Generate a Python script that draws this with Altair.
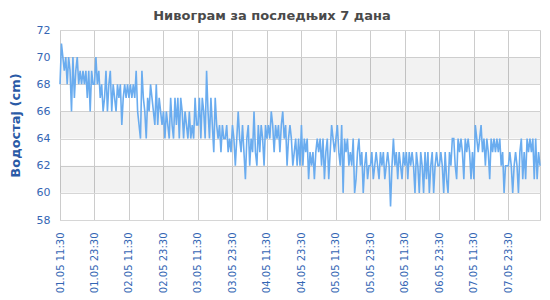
import json
import altair as alt
import pandas as pd

YEAR = "2024"
tick_labels = ["01.05 11:30", "01.05 23:30", "02.05 11:30", "02.05 23:30",
               "03.05 11:30", "03.05 23:30", "04.05 11:30", "04.05 23:30",
               "05.05 11:30", "05.05 23:30", "06.05 11:30", "06.05 23:30",
               "07.05 11:30", "07.05 23:30"]
y_ticks = [58, 60, 62, 64, 66, 68, 70, 72]
band_low = [60, 64, 68]
band_high = [62, 66, 70]

# water level (cm), one reading every 30 minutes, in 12-hour blocks
g0 = [68, 71, 70, 69, 70, 68, 70, 69, 66, 70, 67, 69, 70, 68, 69, 68, 69, 68, 69, 67, 69, 66, 69, 68]
g1 = [68, 70, 68, 69, 67, 68, 66, 67, 69, 66, 68, 69, 66, 68, 67, 66, 68, 67, 68, 65, 67, 68, 67, 68]
g2 = [67, 68, 67, 68, 67, 69, 66, 65, 64, 69, 67, 66, 64, 67, 66, 68, 67, 66, 65, 68, 65, 67, 66, 65]
g3 = [66, 64, 66, 65, 64, 67, 65, 64, 67, 65, 67, 64, 67, 66, 64, 66, 65, 64, 66, 64, 65, 64, 67, 65]
g4 = [65, 67, 64, 67, 66, 64, 69, 66, 64, 67, 65, 63, 67, 65, 64, 65, 63, 65, 64, 64, 65, 63, 64, 63]
g5 = [65, 64, 62, 64, 66, 64, 63, 65, 63, 61, 64, 65, 62, 64, 63, 66, 63, 62, 65, 63, 65, 64, 62, 65]
g6 = [64, 65, 64, 66, 65, 63, 65, 64, 65, 63, 65, 66, 64, 65, 62, 64, 65, 64, 62, 63, 64, 62, 64, 62]
g7 = [65, 62, 64, 63, 64, 61, 63, 62, 63, 61, 63, 64, 63, 64, 62, 64, 61, 63, 64, 61, 63, 65, 64, 63]
g8 = [64, 65, 63, 62, 65, 60, 64, 63, 64, 62, 63, 62, 64, 60, 61, 63, 64, 62, 63, 60, 62, 63, 61, 62]
g9 = [62, 63, 61, 62, 63, 62, 61, 63, 62, 63, 61, 62, 63, 62, 59, 62, 64, 62, 63, 61, 63, 62, 61, 63]
g10 = [62, 63, 61, 63, 62, 63, 62, 60, 63, 62, 60, 63, 62, 60, 63, 61, 63, 60, 62, 63, 60, 62, 63, 62]
g11 = [62, 63, 62, 60, 63, 61, 60, 63, 62, 64, 64, 62, 61, 64, 63, 64, 63, 61, 64, 63, 64, 63, 61, 63]
g12 = [61, 65, 64, 63, 64, 65, 63, 64, 62, 64, 63, 61, 64, 63, 64, 63, 64, 63, 64, 62, 63, 60, 62, 62]
g13 = [62, 63, 62, 60, 62, 63, 62, 60, 63, 64, 61, 63, 61, 64, 63, 64, 63, 64, 61, 64, 61, 63, 62]

level_cm = g0 + g1 + g2 + g3 + g4 + g5 + g6 + g7 + g8 + g9 + g10 + g11 + g12 + g13


def parse(label):
    return pd.to_datetime(YEAR + "." + label, format="%Y.%d.%m %H:%M")


def ms(ts):
    return int(ts.value // 10**6)


t0 = parse(tick_labels[0])
times = [t0 + pd.Timedelta(minutes=30 * i) for i in range(len(level_cm))]
df = pd.DataFrame({"time": [t.strftime("%Y-%m-%dT%H:%M:%SZ") for t in times],
                   "level": level_cm})
bands_df = pd.DataFrame({"lo": band_low, "hi": band_high})
tick_ms = [ms(parse(l)) for l in tick_labels]
step_ms = tick_ms[1] - tick_ms[0]
label_expr = "%s[round((datum.value - %d) / %d)]" % (json.dumps(tick_labels), tick_ms[0], step_ms)

FONT = "DejaVu Sans"
LABEL_BLUE = "#3466b4"

yscale = alt.Scale(domain=[58, 72], nice=False, zero=False)
yaxis = alt.Axis(values=y_ticks, title="Водостај (cm)", titleColor="#2a5aa6",
                 titleFont=FONT, titleFontSize=13, titleFontWeight="bold",
                 titlePadding=14, labelColor=LABEL_BLUE, labelFont=FONT,
                 labelFontSize=11, labelPadding=10, ticks=False, domain=False,
                 gridColor="#d6d6d6")
xaxis = alt.Axis(values=tick_ms, labelExpr=label_expr,
                 labelAngle=-90, labelAlign="right", labelBaseline="middle",
                 labelColor=LABEL_BLUE, labelFont=FONT, labelLimit=300,
                 labelFontSize=10, labelPadding=12, ticks=False, domain=False,
                 title=None, gridColor="#cccccc", labelOverlap=False, labelFlush=False)

bands = alt.Chart(bands_df).mark_rect(fill="#000000", fillOpacity=0.05).encode(
    y=alt.Y("lo:Q", scale=yscale, axis=yaxis),
    y2="hi:Q",
)

line = alt.Chart(df).mark_line(color="#6aacef", strokeWidth=1.6).encode(
    x=alt.X("time:T", scale=alt.Scale(type="utc", domain=[ms(times[0]), ms(times[-1])], nice=False),
            axis=xaxis),
    y=alt.Y("level:Q", scale=yscale, axis=yaxis),
)

chart = alt.layer(bands, line).properties(
    width=480,
    height=190,
    title=alt.TitleParams("Нивограм за последњих 7 дана", font=FONT, fontSize=13,
                          fontWeight="bold", color="#4a4a4a", anchor="middle",
                          offset=1, dx=-28),
    padding={"left": 60, "top": 30, "right": 10, "bottom": 80},
    autosize=alt.AutoSizeParams(type="none"),
).configure_view(stroke="#cccccc", strokeWidth=1)

chart.save("out.html", embed_options={"renderer": "svg", "actions": False})
